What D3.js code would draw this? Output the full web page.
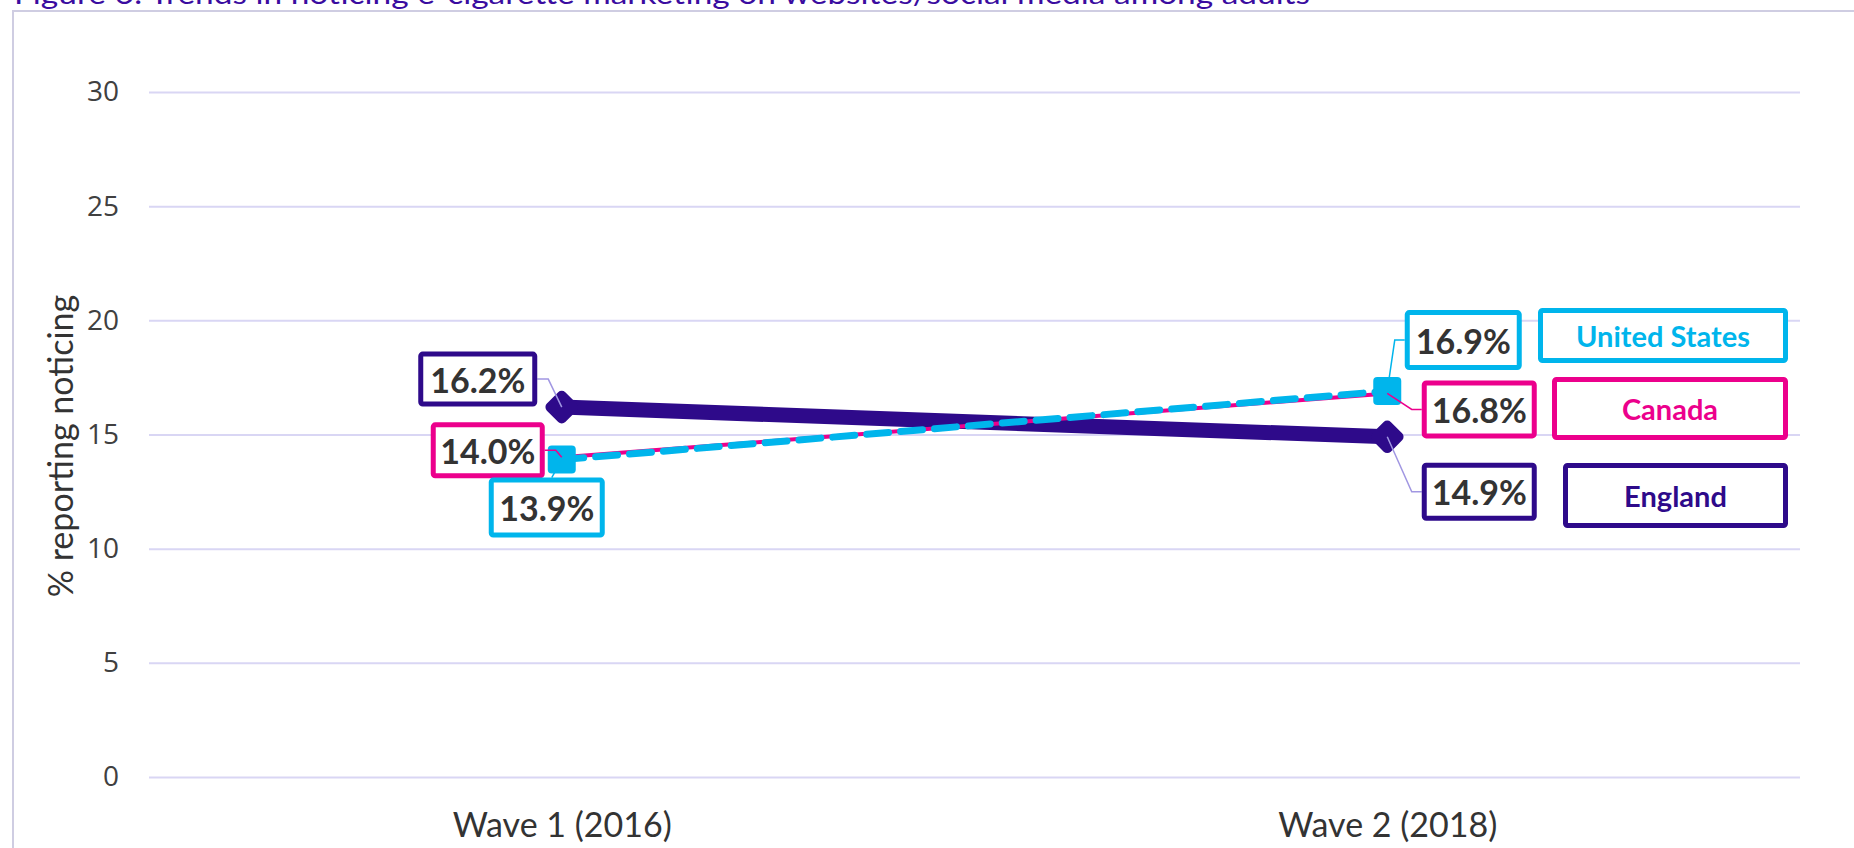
<!DOCTYPE html>
<html>
<head>
<meta charset="utf-8">
<script src="https://cdnjs.cloudflare.com/ajax/libs/d3/7.8.5/d3.min.js"></script>
<style>
  html, body { margin: 0; padding: 0; background: #fff; overflow: hidden; }
</style>
</head>
<body>
<script>
// chart data
var waves = ['Wave 1 (2016)', 'Wave 2 (2018)'];
var countries = ['England', 'Canada', 'United States'];
var englandVals = [16.2, 14.9];
var canadaVals = [14.0, 16.8];
var usVals = [13.9, 16.9];
var yTicks = [0, 5, 10, 15, 20, 25, 30];
var titleText = 'Figure 6: Trends in noticing e-cigarette marketing on websites/social media among adults';
var yTitle = '% reporting noticing';

var W = 1854, H = 848;
var colors = { 'England': '#2e0a8a', 'Canada': '#ec008c', 'United States': '#00b5ec' };
var leaderColors = { 'England': '#a197e2', 'Canada': '#ec008c', 'United States': '#00b5ec' };

// label box offsets from the point (centre dx, dy), box w/h, leader side
var labelLayout = {
  'England':       [{dx: -84, dy: -28, w: 114, h: 50, side: 'left'},  {dx: 92, dy: 55, w: 110, h: 53, side: 'right'}],
  'Canada':        [{dx: -74, dy: -7,  w: 109, h: 51, side: 'left'},  {dx: 92, dy: 16, w: 110, h: 53, side: 'right'}],
  'United States': [{dx: -15, dy: 48,  w: 111, h: 55, side: 'top'},   {dx: 76, dy: -51, w: 112, h: 55, side: 'right'}]
};
var legendLayout = {
  'United States': {x0: 1538, y0: 308, x1: 1788, y1: 363},
  'Canada':        {x0: 1552, y0: 377, x1: 1788, y1: 440},
  'England':       {x0: 1563, y0: 463, x1: 1788, y1: 528}
};

var series = [
  { name: 'England', values: englandVals },
  { name: 'Canada', values: canadaVals },
  { name: 'United States', values: usVals }
];

var svg = d3.select('body').append('svg')
  .attr('width', W)
  .attr('height', H);

// outer frame (runs off right/bottom)
svg.append('rect')
  .attr('x', 13).attr('y', 11)
  .attr('width', W + 20).attr('height', H + 20)
  .attr('fill', '#fff')
  .attr('stroke', '#cfcde2')
  .attr('stroke-width', 2);

// title, mostly cut off at the top like the source image
svg.append('text')
  .attr('x', 14).attr('y', 4)
  .attr('textLength', 1296)
  .attr('lengthAdjust', 'spacingAndGlyphs')
  .style('font-family', 'Lato, sans-serif')
  .style('font-size', '28px')
  .style('fill', '#3a0ca0')
  .text(titleText);

var x = d3.scalePoint().domain(waves).range([149, 1800]).padding(0.5);
var y = d3.scaleLinear().domain([0, 30]).range([777, 92]);

var yAxis = svg.append('g')
  .attr('transform', 'translate(149,0)')
  .call(d3.axisLeft(y).tickValues(yTicks).tickSize(-(1800 - 149)).tickPadding(30).tickFormat(d3.format('d')));
yAxis.select('.domain').remove();
yAxis.selectAll('.tick line')
  .attr('stroke', '#d9d6f4')
  .attr('stroke-width', 2);
yAxis.selectAll('.tick text')
  .style('font-family', '"Open Sans", sans-serif')
  .style('font-size', '28px')
  .style('fill', '#404040');

var xAxis = svg.append('g')
  .attr('transform', 'translate(0,777)')
  .call(d3.axisBottom(x).tickSize(0).tickPadding(36));
xAxis.select('.domain').remove();
xAxis.selectAll('.tick text')
  .style('font-family', 'Lato, sans-serif')
  .style('font-size', '34px')
  .style('fill', '#333');

svg.append('text')
  .attr('transform', 'translate(73,446) rotate(-90)')
  .attr('text-anchor', 'middle')
  .style('font-family', 'Lato, sans-serif')
  .style('font-size', '34px')
  .style('fill', '#333')
  .text(yTitle);

var line = d3.line()
  .x(function(d, i) { return x(waves[i]); })
  .y(function(d) { return y(d); });

// lines
svg.append('path')
  .datum(englandVals)
  .attr('d', line)
  .attr('fill', 'none')
  .attr('stroke', colors['England'])
  .attr('stroke-width', 15)
  .attr('stroke-linecap', 'round');

svg.append('path')
  .datum(canadaVals)
  .attr('d', line)
  .attr('fill', 'none')
  .attr('stroke', colors['Canada'])
  .attr('stroke-width', 4);

svg.append('path')
  .datum(usVals)
  .attr('d', line)
  .attr('fill', 'none')
  .attr('stroke', colors['United States'])
  .attr('stroke-width', 7)
  .attr('stroke-dasharray', '22,12')
  .attr('stroke-linecap', 'round');

// markers
svg.selectAll('.eng-mark')
  .data(englandVals)
  .enter().append('rect')
  .attr('class', 'eng-mark')
  .attr('x', -13).attr('y', -13)
  .attr('width', 26).attr('height', 26)
  .attr('rx', 5)
  .attr('transform', function(d, i) { return 'translate(' + x(waves[i]) + ',' + y(d) + ') rotate(45)'; })
  .attr('fill', colors['England']);

svg.selectAll('.us-mark')
  .data(usVals)
  .enter().append('rect')
  .attr('class', 'us-mark')
  .attr('x', function(d, i) { return x(waves[i]) - 14; })
  .attr('y', function(d) { return y(d) - 14; })
  .attr('width', 28).attr('height', 28)
  .attr('rx', 4)
  .attr('fill', colors['United States']);

// data labels with leader lines
series.forEach(function(s) {
  s.values.forEach(function(v, i) {
    var px = x(waves[i]), py = y(v);
    var L = labelLayout[s.name][i];
    var cx = px + L.dx, cy = py + L.dy;
    var pts;
    if (L.side === 'left') {
      var ex = cx + L.w / 2 + 2.5;
      pts = [[ex, cy], [ex + 11, cy], [px, py]];
    } else if (L.side === 'right') {
      var lx = cx - L.w / 2 - 2.5;
      pts = [[lx, cy], [lx - 10, cy], [px, py]];
    } else {
      pts = [[px - 10, cy - L.h / 2 - 2.5], [px, py]];
    }
    svg.append('path')
      .attr('d', d3.line()(pts))
      .attr('fill', 'none')
      .attr('stroke', leaderColors[s.name])
      .attr('stroke-width', 1.5);

    svg.append('rect')
      .attr('x', cx - L.w / 2).attr('y', cy - L.h / 2)
      .attr('width', L.w).attr('height', L.h)
      .attr('rx', 2)
      .attr('fill', '#fff')
      .attr('stroke', colors[s.name])
      .attr('stroke-width', 5);

    svg.append('text')
      .attr('x', cx).attr('y', cy)
      .attr('text-anchor', 'middle')
      .attr('dominant-baseline', 'central')
      .style('font-family', 'Lato, sans-serif')
      .style('font-weight', 'bold')
      .style('font-size', '34px')
      .style('fill', '#333')
      .text(d3.format('.1f')(v) + '%');
  });
});

// legend boxes
countries.forEach(function(c) {
  var b = legendLayout[c];
  svg.append('rect')
    .attr('x', b.x0 + 2.5).attr('y', b.y0 + 2.5)
    .attr('width', b.x1 - b.x0 - 5).attr('height', b.y1 - b.y0 - 5)
    .attr('rx', 2)
    .attr('fill', '#fff')
    .attr('stroke', colors[c])
    .attr('stroke-width', 5);
  svg.append('text')
    .attr('x', (b.x0 + b.x1) / 2).attr('y', (b.y0 + b.y1) / 2)
    .attr('text-anchor', 'middle')
    .attr('dominant-baseline', 'central')
    .style('font-family', 'Lato, sans-serif')
    .style('font-weight', 'bold')
    .style('font-size', '29px')
    .style('fill', colors[c])
    .text(c);
});
</script>
</body>
</html>
